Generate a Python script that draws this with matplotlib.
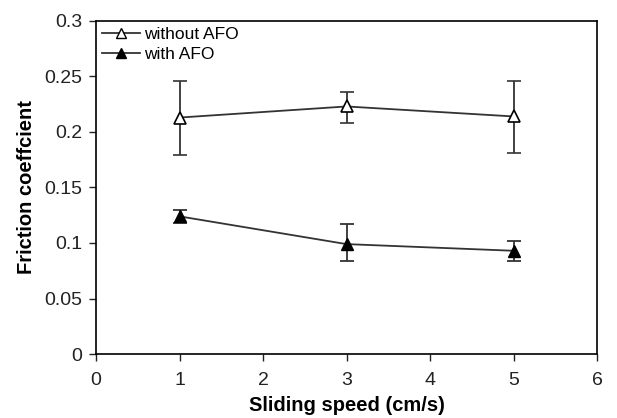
import matplotlib
matplotlib.use("Agg")
import matplotlib.pyplot as plt
from matplotlib.lines import Line2D

plt.rcParams['font.family'] = ['Liberation Sans', 'DejaVu Sans']

speed = [1, 3, 5]
without_afo = [0.213, 0.223, 0.214]
without_lo = [0.179, 0.208, 0.181]
without_hi = [0.246, 0.236, 0.246]
with_afo = [0.124, 0.099, 0.093]
with_lo = [0.118, 0.084, 0.084]
with_hi = [0.130, 0.117, 0.102]

fig = plt.figure(figsize=(6.17, 4.18), dpi=100)
ax = fig.add_axes([0.1556, 0.1531, 0.812, 0.7967])

err1 = [[m - l for m, l in zip(without_afo, without_lo)], [h - m for m, h in zip(without_afo, without_hi)]]
err2 = [[m - l for m, l in zip(with_afo, with_lo)], [h - m for m, h in zip(with_afo, with_hi)]]

ax.errorbar(speed, without_afo, yerr=err1, color='#333333', lw=1.3, marker='^', mfc='white',
            mec='black', ms=8, capsize=5, elinewidth=1.3, capthick=1.3, mew=1.2)
ax.errorbar(speed, with_afo, yerr=err2, color='#333333', lw=1.3, marker='^', mfc='black',
            mec='black', ms=8, capsize=5, elinewidth=1.3, capthick=1.3)

ax.set_xlim(0, 6)
ax.set_ylim(0, 0.3)
ax.set_xticks([0, 1, 2, 3, 4, 5, 6])
ax.set_yticks([0, 0.05, 0.1, 0.15, 0.2, 0.25, 0.3])
ax.set_yticklabels(['0', '0.05', '0.1', '0.15', '0.2', '0.25', '0.3'])
ax.tick_params(labelsize=14, direction='out', length=5, width=1, colors='#222222')
ax.tick_params(axis='x', pad=8)
ax.tick_params(axis='y', pad=5)
for s in ax.spines.values():
    s.set_linewidth(1.2)
ax.set_xlabel('Sliding speed (cm/s)', fontsize=14.5, fontweight='bold', labelpad=5)
ax.set_ylabel('Friction coeffcient', fontsize=14.5, fontweight='bold', labelpad=6)

h = [Line2D([], [], color='#333333', lw=1.3, marker='^', mfc='white', mec='black', ms=7),
     Line2D([], [], color='#333333', lw=1.3, marker='^', mfc='black', mec='black', ms=7)]
ax.legend(h, ['without AFO', 'with AFO'], loc='upper left', frameon=False, fontsize=12.5,
          handlelength=2.2, handletextpad=0.2, borderaxespad=0.1, labelspacing=0.25, borderpad=0.25)

fig.savefig('out.png', dpi=100)
